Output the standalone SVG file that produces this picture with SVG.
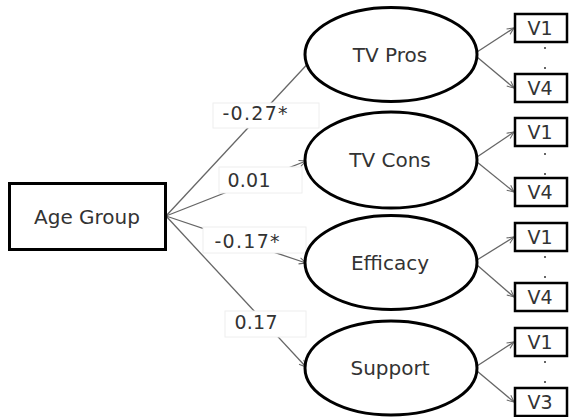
<svg xmlns="http://www.w3.org/2000/svg" width="569" height="417" viewBox="0 0 569 417">
<defs>
<marker id="arr" viewBox="0 0 10 10" refX="9.5" refY="5" markerWidth="8" markerHeight="8" markerUnits="userSpaceOnUse" orient="auto">
<path d="M1,1 L9.5,5 L1,9" fill="none" stroke="#666" stroke-width="1.3"/>
</marker>
</defs>
<style>
text{font-family:"DejaVu Sans",Verdana,sans-serif;fill:#333;text-anchor:middle}
.lat{fill:#fff;stroke:#000;stroke-width:3}
.obs{fill:#fff;stroke:#000;stroke-width:2.5}
.c{stroke:#666;stroke-width:1.3;fill:none;marker-end:url(#arr)}
.lb{fill:#fff;stroke:#eee;stroke-width:1}
.t{font-size:20px}
.n{font-size:19px}
.v{font-size:19px}
.d{fill:#333}
</style>
<g id="connectors">
<line class="c" x1="166" y1="216" x2="314" y2="57"/>
<line class="c" x1="166" y1="216" x2="306" y2="161"/>
<line class="c" x1="166" y1="216" x2="306" y2="263"/>
<line class="c" x1="166" y1="216" x2="306" y2="367"/>
<line class="c" x1="477" y1="52" x2="514" y2="28"/>
<line class="c" x1="477" y1="57" x2="514" y2="88"/>
<line class="c" x1="477" y1="157" x2="514" y2="132"/>
<line class="c" x1="477" y1="162" x2="514" y2="192"/>
<line class="c" x1="477" y1="260" x2="514" y2="237"/>
<line class="c" x1="477" y1="265" x2="514" y2="297"/>
<line class="c" x1="477" y1="366" x2="514" y2="342"/>
<line class="c" x1="477" y1="371" x2="514" y2="402"/>
</g>
<g id="labels">
<rect class="lb" x="213" y="103" width="106" height="25"/>
<text class="n" x="255" y="120" textLength="65" lengthAdjust="spacing">-0.27*</text>
<rect class="lb" x="219" y="167" width="83" height="26"/>
<text class="n" x="249" y="187" textLength="43" lengthAdjust="spacing">0.01</text>
<rect class="lb" x="203" y="227" width="103" height="26"/>
<text class="n" x="247" y="248" textLength="65" lengthAdjust="spacing">-0.17*</text>
<rect class="lb" x="225" y="311" width="81" height="26"/>
<text class="n" x="256" y="329" textLength="43" lengthAdjust="spacing">0.17</text>
</g>
<g id="age-group">
<rect x="9.5" y="183.5" width="156" height="66" fill="#fff" stroke="#000" stroke-width="3"/>
<text class="t" x="87" y="224">Age Group</text>
</g>
<g id="tv-pros">
<ellipse class="lat" cx="391" cy="54.5" rx="86" ry="47"/>
<text class="t" x="390" y="62">TV Pros</text>
</g>
<g id="tv-cons">
<ellipse class="lat" cx="391" cy="160" rx="86" ry="48"/>
<text class="t" x="390" y="167">TV Cons</text>
</g>
<g id="efficacy">
<ellipse class="lat" cx="391" cy="262.5" rx="86" ry="47"/>
<text class="t" x="390" y="270">Efficacy</text>
</g>
<g id="support">
<ellipse class="lat" cx="391" cy="368" rx="86" ry="47"/>
<text class="t" x="390" y="375">Support</text>
</g>
<g id="tv-pros-items">
<rect class="obs" x="515" y="14" width="52" height="28"/>
<text class="v" x="540" y="35">V1</text>
<circle class="d" cx="545" cy="48" r="1"/>
<circle class="d" cx="545" cy="68" r="1"/>
<rect class="obs" x="515" y="74" width="52" height="28"/>
<text class="v" x="540" y="95">V4</text>
</g>
<g id="tv-cons-items">
<rect class="obs" x="515" y="118" width="52" height="28"/>
<text class="v" x="540" y="139">V1</text>
<circle class="d" cx="545" cy="154" r="1"/>
<circle class="d" cx="545" cy="174" r="1"/>
<rect class="obs" x="515" y="178" width="52" height="28"/>
<text class="v" x="540" y="199">V4</text>
</g>
<g id="efficacy-items">
<rect class="obs" x="515" y="223" width="52" height="28"/>
<text class="v" x="540" y="244">V1</text>
<circle class="d" cx="545" cy="257" r="1"/>
<circle class="d" cx="545" cy="277" r="1"/>
<rect class="obs" x="515" y="283" width="52" height="28"/>
<text class="v" x="540" y="304">V4</text>
</g>
<g id="support-items">
<rect class="obs" x="515" y="328" width="52" height="28"/>
<text class="v" x="540" y="349">V1</text>
<circle class="d" cx="545" cy="362" r="1"/>
<circle class="d" cx="545" cy="382" r="1"/>
<rect class="obs" x="515" y="388" width="52" height="28"/>
<text class="v" x="540" y="409">V3</text>
</g>
</svg>
